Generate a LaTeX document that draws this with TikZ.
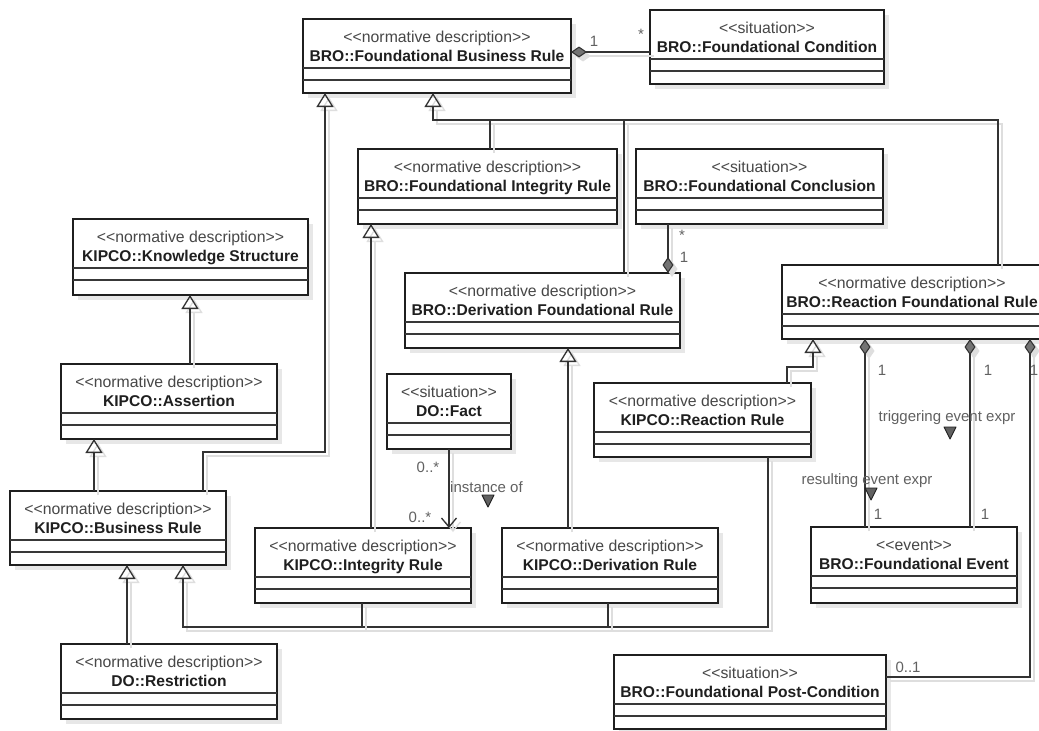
\documentclass[tikz,border=0pt]{standalone}
\usepackage{fontspec}
\setmainfont{Liberation Sans}
\usetikzlibrary{arrows.meta,calc,shadows}

\tikzset{
  classbox/.style={draw=black!88, line width=2.3pt, fill=white, outer sep=0pt, inner sep=0pt,
    drop shadow={shadow xshift=5pt, shadow yshift=-5pt, fill=black!18}},
  compline/.style={draw=black!78, line width=1.3pt},
  stereotxt/.style={anchor=base, inner sep=0pt, text=black!72, font=\fontsize{15.8}{17}\selectfont},
  nametxt/.style={anchor=base, inner sep=0pt, text=black!88, font=\fontsize{15.6}{17}\selectfont\bfseries},
  lbl/.style={inner sep=0pt, text=black!62, font=\fontsize{15}{17}\selectfont},
  conn/.style={draw=black!80, line width=1.4pt},
  connshade/.style={draw=black!13, line width=1.4pt},
  gen/.style={conn, -{Triangle[open, length=14pt, width=17pt, line width=1.3pt]}},
  genshade/.style={connshade, -{Triangle[open, length=14pt, width=17pt, line width=1.3pt]}},
  comp/.style={conn, -{Diamond[length=16pt, width=11pt, fill=black!55, line width=1.1pt]}},
  compshade/.style={connshade, -{Diamond[length=16pt, width=11pt, fill=black!13, line width=1.1pt]}},
  nav/.style={conn, -{Straight Barb[length=9pt, width=15pt, line width=1.3pt]}},
  navshade/.style={connshade, -{Straight Barb[length=9pt, width=15pt, line width=1.3pt]}},
  dirmark/.style={fill=black!62, draw=black!88, line width=0.9pt, line join=round},
}

% class box: name, x1, y1, x2, y2, stereotype, title
\newcommand{\umlclass}[7]{%
  \node[classbox, minimum width={#4pt-#2pt}, minimum height={#5pt-#3pt}, anchor=north west] (#1) at (#2,#3) {};
  \node[stereotxt] (#1-st) at ($(#1.north)+(0,23)$) {<\kern0pt<#6>\kern0pt>};
  \node[nametxt] (#1-nm) at ($(#1.north)+(0,42)$) {#7};
  \draw[compline] ($(#1.north west)+(0,49)$) -- ($(#1.north east)+(0,49)$);
  \draw[compline] ($(#1.north west)+(0,61)$) -- ($(#1.north east)+(0,61)$);
}
% connector with its soft offset shadow: style, path
\newcommand{\connector}[2]{%
  \begin{scope}[transform canvas={shift={(4pt,-4pt)}}]\draw[#1shade] #2;\end{scope}
  \draw[#1] #2;
}
% small filled triangle showing the reading direction of an association name
\newcommand{\readdir}[2]{\filldraw[dirmark] (#1-6,#2-6) -- (#1+6,#2-6) -- (#1,#2+6) -- cycle;}

\begin{document}
\begin{tikzpicture}[x=1pt, y=-1pt]
\useasboundingbox[fill=white] (0,0) rectangle (1039,731);

% ---------- classes ----------
\umlclass{FBR}{303}{19}{571}{93}{normative description}{BRO::Foundational Business Rule}
\umlclass{FCond}{650}{10}{884}{84}{situation}{BRO::Foundational Condition}
\umlclass{FIR}{358}{149}{617}{224}{normative description}{BRO::Foundational Integrity Rule}
\umlclass{FConc}{636}{149}{883}{224}{situation}{BRO::Foundational Conclusion}
\umlclass{KS}{73}{219}{308}{295}{normative description}{KIPCO::Knowledge Structure}
\umlclass{DFR}{405}{273}{680}{348}{normative description}{BRO::Derivation Foundational Rule}
\umlclass{RFR}{782}{265}{1042}{339}{normative description}{BRO::Reaction Foundational Rule}
\umlclass{Asr}{61}{364}{277}{439}{normative description}{KIPCO::Assertion}
\umlclass{Fact}{387}{374}{511}{449}{situation}{DO::Fact}
\umlclass{RR}{594}{383}{811}{457}{normative description}{KIPCO::Reaction Rule}
\umlclass{BR}{10}{491}{226}{565}{normative description}{KIPCO::Business Rule}
\umlclass{IR}{255}{528}{471}{603}{normative description}{KIPCO::Integrity Rule}
\umlclass{DR}{502}{528}{718}{603}{normative description}{KIPCO::Derivation Rule}
\umlclass{Ev}{811}{527}{1017}{603}{event}{BRO::Foundational Event}
\umlclass{Res}{61}{644}{277}{719}{normative description}{DO::Restriction}
\umlclass{PC}{614}{655}{886}{729}{situation}{BRO::Foundational Post-Condition}

% ---------- generalizations ----------
\connector{gen}{(203,0 |- BR.north) -- (203,452) -- (325,452) -- (325,0 |- FBR.south)}
\connector{gen}{(998,0 |- RFR.north) -- (998,120) -- (433,120) -- (433,0 |- FBR.south)}
\connector{conn}{(490,0 |- FIR.north) -- (490,120)}
\connector{conn}{(624,0 |- DFR.north) -- (624,120)}
\connector{gen}{(371,0 |- IR.north) -- (371,0 |- FIR.south)}
\connector{gen}{(568,0 |- DR.north) -- (568,0 |- DFR.south)}
\connector{gen}{(787,0 |- RR.north) -- (787,367) -- (813,367) -- (813,0 |- RFR.south)}
\connector{gen}{(190,0 |- Asr.north) -- (190,0 |- KS.south)}
\connector{gen}{(94,0 |- BR.north) -- (94,0 |- Asr.south)}
\connector{gen}{(127,0 |- Res.north) -- (127,0 |- BR.south)}
\connector{gen}{(768,0 |- RR.south) -- (768,627) -- (183,627) -- (183,0 |- BR.south)}
\connector{conn}{(362,0 |- IR.south) -- (362,627)}
\connector{conn}{(608,0 |- DR.south) -- (608,627)}

% ---------- compositions ----------
\connector{comp}{(FCond.west |- 0,52) -- (FBR.east |- 0,52)}
\node[lbl] (m1) at (594,41) {1};
\node[lbl] (m2) at (641,34) {*};

\connector{comp}{(668,0 |- FConc.south) -- (668,0 |- DFR.north)}
\node[lbl] (m3) at (682,235) {*};
\node[lbl] (m4) at (684,257) {1};

\connector{comp}{(865,0 |- Ev.north) -- (865,0 |- RFR.south)}
\connector{comp}{(970,0 |- Ev.north) -- (970,0 |- RFR.south)}
\connector{comp}{(PC.east |- 0,677) -- (1030,677) -- (1030,0 |- RFR.south)}
\node[lbl] (m5) at (882,370) {1};
\node[lbl] (m6) at (988,370) {1};
\node[lbl] (m7) at (1034,370) {1};
\node[lbl] (m8) at (878,514) {1};
\node[lbl] (m9) at (985,514) {1};
\node[lbl] (m10) at (908,667) {0..1};
\node[lbl] (trig) at (947,418) {triggering event expr};
\readdir{950}{433}
\node[lbl] (res) at (867,481) {resulting event expr};
\readdir{871}{494}

% ---------- association ----------
\connector{nav}{(449,0 |- Fact.south) -- (449,0 |- IR.north)}
\node[lbl] (m11) at (428,467) {0..*};
\node[lbl] (m12) at (420,517) {0..*};
\node[lbl, anchor=west] (inst) at (450,487) {instance of};
\readdir{488}{501}

\end{tikzpicture}
\end{document}
